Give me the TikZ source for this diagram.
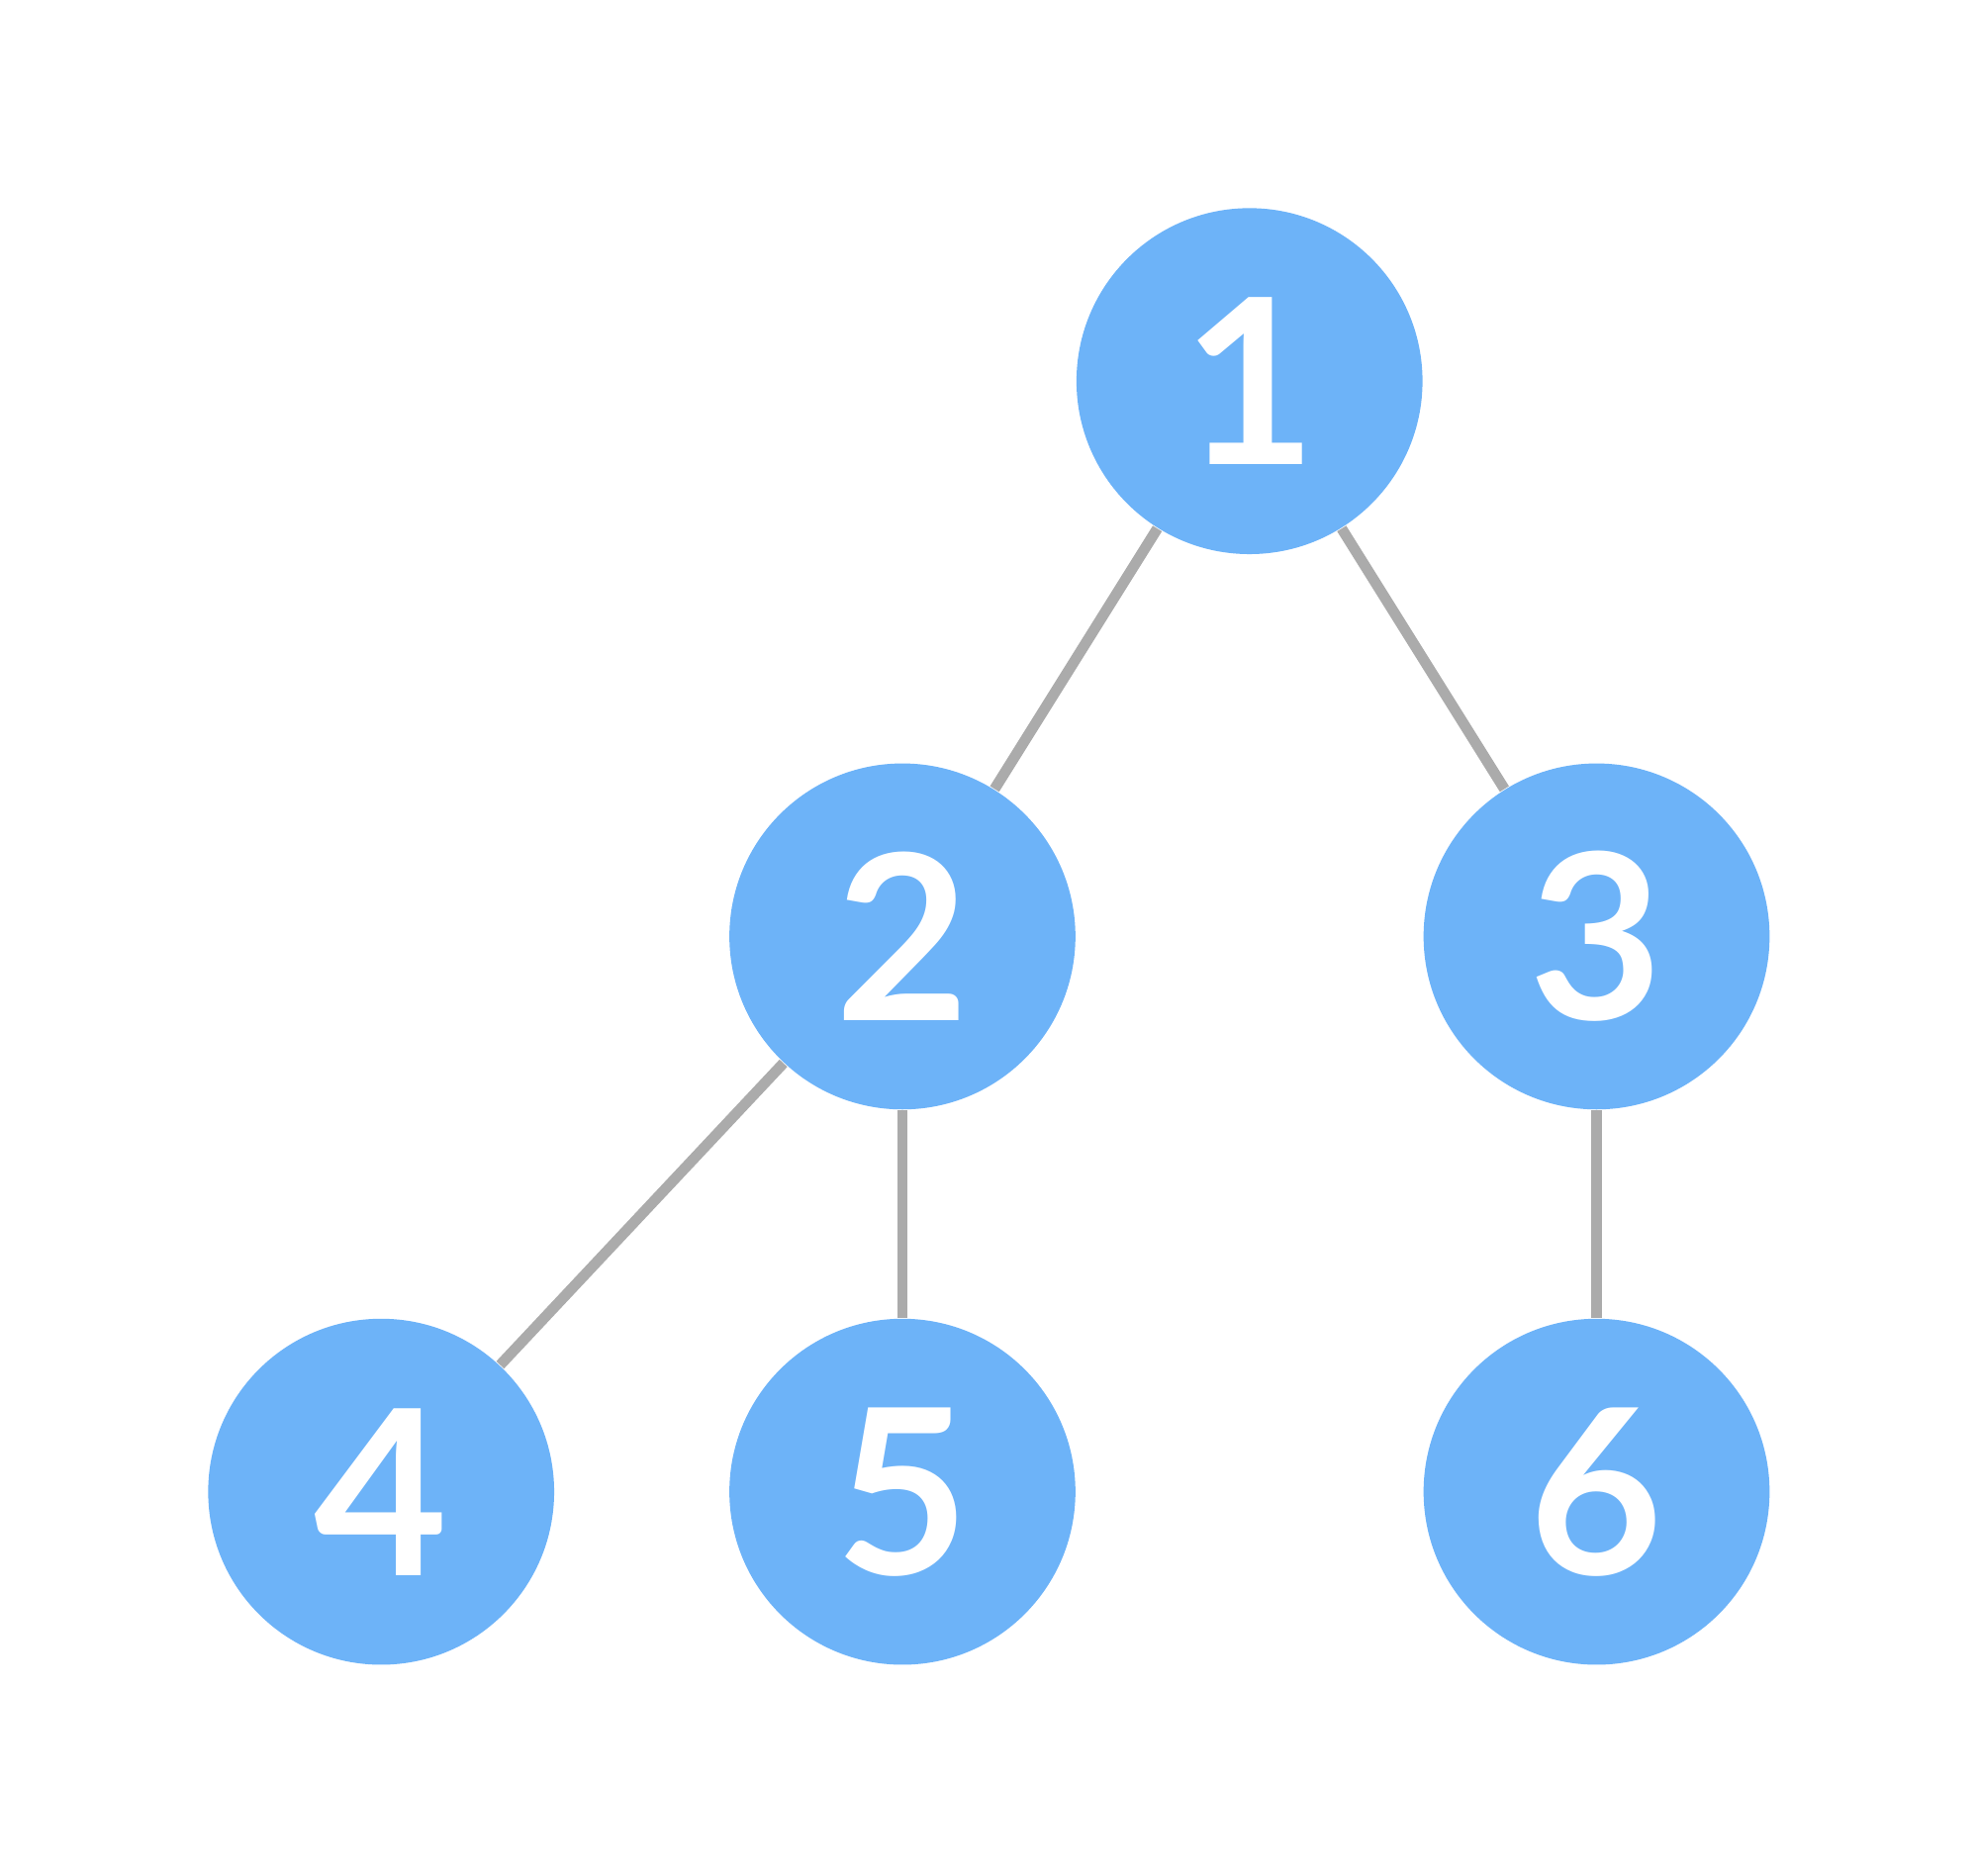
\documentclass[tikz,border=0pt]{standalone}
\usepackage{fontspec}
\setmainfont{Lato}
\definecolor{nodeblue}{HTML}{6DB3F8}
\definecolor{edgegray}{HTML}{ABABAB}
\begin{document}
\begin{tikzpicture}[x=0.01cm,y=-0.01cm,
  tnode/.style={circle,fill=nodeblue,draw=none,minimum size=2.74cm,inner sep=0pt,text=white,font=\fontsize{52}{52}\selectfont\bfseries},
  tedge/.style={draw=edgegray,line width=2.4pt}]
\useasboundingbox (0,0) rectangle (1568,1486);
\node[tnode] (n1) at (990,302) {1};
\node[tnode] (n2) at (715,742) {2};
\node[tnode] (n3) at (1265,742) {3};
\node[tnode] (n4) at (302,1182) {4};
\node[tnode] (n5) at (715,1182) {5};
\node[tnode] (n6) at (1265,1182) {6};
\begin{scope}[on background layer/.style={}]
\end{scope}
\draw[tedge] (n1) -- (n2);
\draw[tedge] (n1) -- (n3);
\draw[tedge] (n2) -- (n4);
\draw[tedge] (n2) -- (n5);
\draw[tedge] (n3) -- (n6);
\end{tikzpicture}
\end{document}
